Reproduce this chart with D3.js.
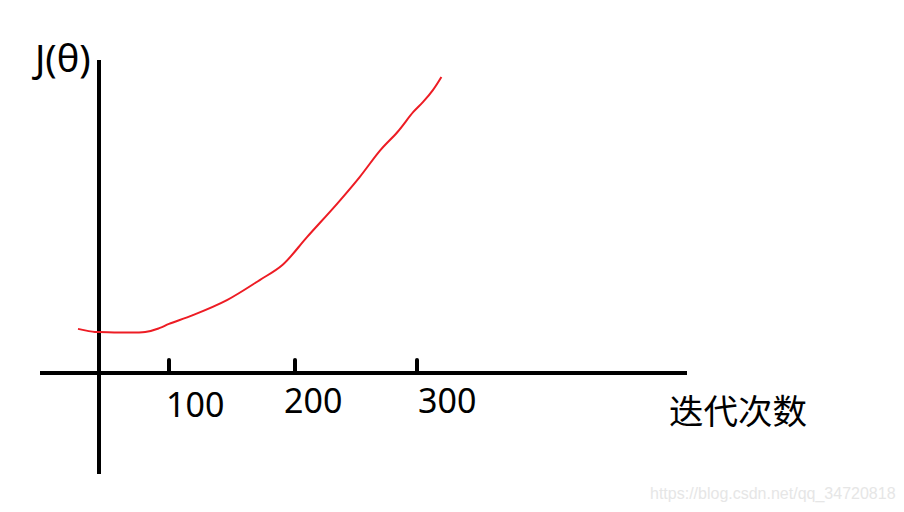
<!DOCTYPE html>
<meta charset="utf-8">
<style>
body { margin: 0; background: #fff; }
.axis-line { stroke: #000; stroke-width: 4; }
.tick-mark { stroke: #000; stroke-width: 4; stroke-linecap: round; }
.curve { fill: none; stroke: #ed1c24; stroke-width: 2; stroke-linejoin: round; }
.num { font-family: "Noto Sans", sans-serif; font-size: 34px; fill: #000; }
.ylab { font-family: "Noto Sans", sans-serif; font-size: 38px; fill: #000; }
.cjk { font-family: "Noto Sans CJK SC", sans-serif; font-size: 34.5px; fill: #000; }
.mark { font-family: "Liberation Sans", Arial, sans-serif; font-size: 16px; fill: #e6e6e6; }
</style>
<svg width="904" height="512"></svg>
<script src="https://cdnjs.cloudflare.com/ajax/libs/d3/7.8.5/d3.min.js"></script>
<script>

// iterations vs cost
var iters = [-30, -6, 0, 66, 87, 100, 119, 146, 172, 190, 210, 235, 253, 270, 284, 297, 305, 313, 320];
var cost  = [14.1, 13.1, 13.1, 13.1, 14.4, 15.7, 18.5, 23.3, 29.7, 34.5, 43.5, 54.3, 62.6, 71.2, 77, 83.4, 86.6, 90.4, 94.6];
var tickVals = [100, 200, 300];
var yLabel = "J(θ)";
var xLabel = "迭代次数";
var watermark = "https://blog.csdn.net/qq_34720818";

var svg = d3.select("svg");

// hand drawn axis, ticks aren't evenly spaced
var x = d3.scaleLinear()
    .domain([0, 100, 200, 300])
    .range([99, 169, 295, 417]);

var y = d3.scaleLinear()
    .domain([0, 100])
    .range([373, 60]);

svg.append("line")
    .attr("class", "axis-line")
    .attr("x1", 40).attr("x2", 687)
    .attr("y1", y(0)).attr("y2", y(0));

svg.append("line")
    .attr("class", "axis-line")
    .attr("x1", x(0)).attr("x2", x(0))
    .attr("y1", 60).attr("y2", 474);

var ticks = svg.append("g");

ticks.selectAll("line")
  .data(tickVals)
  .enter().append("line")
    .attr("class", "tick-mark")
    .attr("x1", function(d) { return x(d); })
    .attr("x2", function(d) { return x(d); })
    .attr("y1", y(0))
    .attr("y2", y(0) - 13);

var labelShift = { 100: -3, 200: -11, 300: 1 },
    labelBase = { 100: 417, 200: 413, 300: 413 };

ticks.selectAll("text")
  .data(tickVals)
  .enter().append("text")
    .attr("class", "num")
    .attr("x", function(d) { return x(d) + labelShift[d]; })
    .attr("y", function(d) { return labelBase[d]; })
    .text(function(d) { return d; });

svg.append("text")
    .attr("class", "ylab")
    .attr("x", 35)
    .attr("y", 72)
    .text(yLabel);

svg.append("text")
    .attr("class", "cjk")
    .attr("x", 669)
    .attr("y", 424)
    .text(xLabel);

var line = d3.line()
    .x(function(d) { return x(d[0]); })
    .y(function(d) { return y(d[1]); })
    .curve(d3.curveCatmullRom);

svg.append("path")
    .datum(iters.map(function(v, i) { return [v, cost[i]]; }))
    .attr("class", "curve")
    .attr("d", line);

svg.append("text")
    .attr("class", "mark")
    .attr("x", 650)
    .attr("y", 499)
    .text(watermark);

</script>
